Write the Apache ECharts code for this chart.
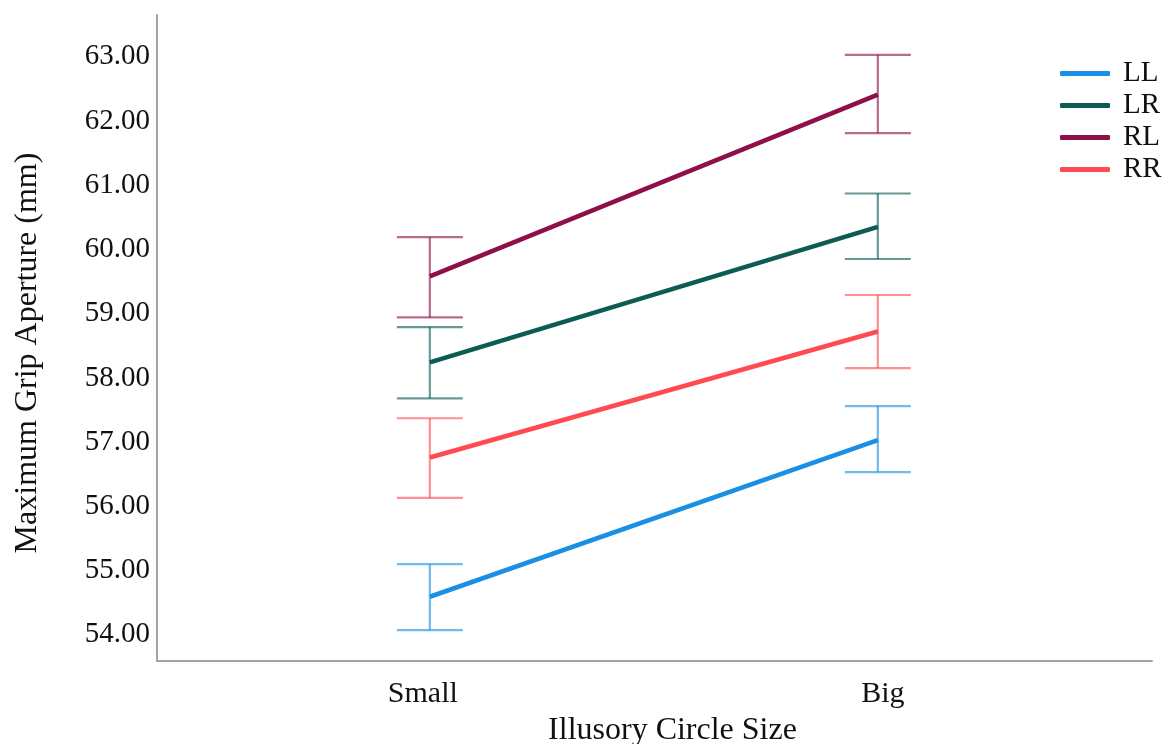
<!DOCTYPE html>
<html>
<head>
<meta charset="utf-8">
<title>Maximum Grip Aperture</title>
<script src="https://cdn.jsdelivr.net/npm/echarts@6/dist/echarts.min.js"></script>
<style>
  html, body { margin: 0; padding: 0; background: #fff; }
  #chart { width: 1163px; height: 744px; }
</style>
</head>
<body>
<div id="chart"></div>
<script>
// Illusory circle size conditions (x positions 0 and 1)
const categories = ['Small', 'Big'];
const groupNames = ['LL', 'LR', 'RL', 'RR'];
const yTicks = [54, 55, 56, 57, 58, 59, 60, 61, 62, 63];

// Mean maximum grip aperture (mm) and error bar limits per group
const meanLL = [54.53, 56.97];
const lowLL  = [54.01, 56.47];
const highLL = [55.04, 57.50];

const meanLR = [58.18, 60.29];
const lowLR  = [57.62, 59.79];
const highLR = [58.73, 60.81];

const meanRL = [59.52, 62.35];
const lowRL  = [58.88, 61.75];
const highRL = [60.13, 62.97];

const meanRR = [56.70, 58.66];
const lowRR  = [56.07, 58.09];
const highRR = [57.31, 59.23];

const colors = ['#1a8fe3', '#0c5b55', '#8e0f49', '#ff4a52'];
const means = [meanLL, meanLR, meanRL, meanRR];
const lows = [lowLL, lowLR, lowRL, lowRR];
const highs = [highLL, highLR, highRL, highRR];

const font = 'Liberation Serif, Times New Roman, serif';
const CAP = 33;

function errorBarItem(color) {
  return function (params, api) {
    const x = api.value(0);
    const lo = api.coord([x, api.value(1)]);
    const hi = api.coord([x, api.value(2)]);
    const style = { stroke: color, lineWidth: 2.2, opacity: 0.62 };
    return {
      type: 'group',
      children: [
        { type: 'line', shape: { x1: hi[0], y1: hi[1], x2: lo[0], y2: lo[1] }, style: style },
        { type: 'line', shape: { x1: hi[0] - CAP, y1: hi[1], x2: hi[0] + CAP, y2: hi[1] }, style: style },
        { type: 'line', shape: { x1: lo[0] - CAP, y1: lo[1], x2: lo[0] + CAP, y2: lo[1] }, style: style }
      ]
    };
  };
}

const series = [];
groupNames.forEach(function (name, i) {
  series.push({
    type: 'custom',
    renderItem: errorBarItem(colors[i]),
    data: categories.map(function (c, k) { return [k, lows[i][k], highs[i][k]]; }),
    z: 2,
    silent: true
  });
});
groupNames.forEach(function (name, i) {
  series.push({
    name: name,
    type: 'line',
    data: categories.map(function (c, k) { return [k, means[i][k]]; }),
    symbol: 'none',
    lineStyle: { color: colors[i], width: 4.6 },
    itemStyle: { color: colors[i] },
    z: 3
  });
});

const chart = echarts.init(document.getElementById('chart'));
chart.setOption({
  animation: false,
  backgroundColor: '#fff',
  grid: { left: 157, right: 11, top: 15, bottom: 83, containLabel: false, outerBoundsMode: 'none' },
  legend: {
    orient: 'vertical',
    left: 1055,
    top: 54,
    itemWidth: 50,
    itemHeight: 5,
    itemGap: 3,
    icon: 'roundRect',
    data: groupNames,
    textStyle: { fontFamily: font, fontSize: 29, color: '#111', lineHeight: 29, padding: [0, 0, 0, 8] }
  },
  xAxis: {
    type: 'value',
    min: -0.609,
    max: 1.612,
    name: 'Illusory Circle Size',
    nameLocation: 'middle',
    nameGap: 54,
    nameTextStyle: { fontFamily: font, fontSize: 32, color: '#111', padding: [0, 0, 0, 36] },
    axisLine: { show: true, onZero: false, lineStyle: { color: '#a3a3a3', width: 2 } },
    axisTick: { show: false },
    splitLine: { show: false },
    axisLabel: {
      customValues: [0, 1],
      formatter: function (v) {
        return Math.round(v) === 0 ? '{s|' + categories[0] + '}' : '{b|' + categories[1] + '}';
      },
      rich: {
        s: { fontFamily: font, fontSize: 30, color: '#111', padding: [0, 14, 0, 0] },
        b: { fontFamily: font, fontSize: 30, color: '#111', padding: [0, 0, 0, 10] }
      },
      fontFamily: font, fontSize: 30, color: '#111', margin: 18
    }
  },
  yAxis: {
    type: 'value',
    min: 53.53,
    max: 63.59,
    name: 'Maximum Grip Aperture (mm)',
    nameLocation: 'middle',
    nameGap: 113,
    nameTextStyle: { fontFamily: font, fontSize: 32, color: '#111', padding: [0, 30, 0, 0] },
    axisLine: { show: true, onZero: false, lineStyle: { color: '#a3a3a3', width: 2 } },
    axisTick: { show: false },
    splitLine: { show: false },
    axisLabel: {
      customValues: yTicks,
      formatter: function (v) { return '{t|' + v.toFixed(2) + '}'; },
      rich: {
        t: { fontFamily: font, fontSize: 29, color: '#111', padding: [8, 0, 0, 0] }
      },
      fontFamily: font, fontSize: 29, color: '#111', margin: 7
    }
  },
  series: series
});
</script>
</body>
</html>
